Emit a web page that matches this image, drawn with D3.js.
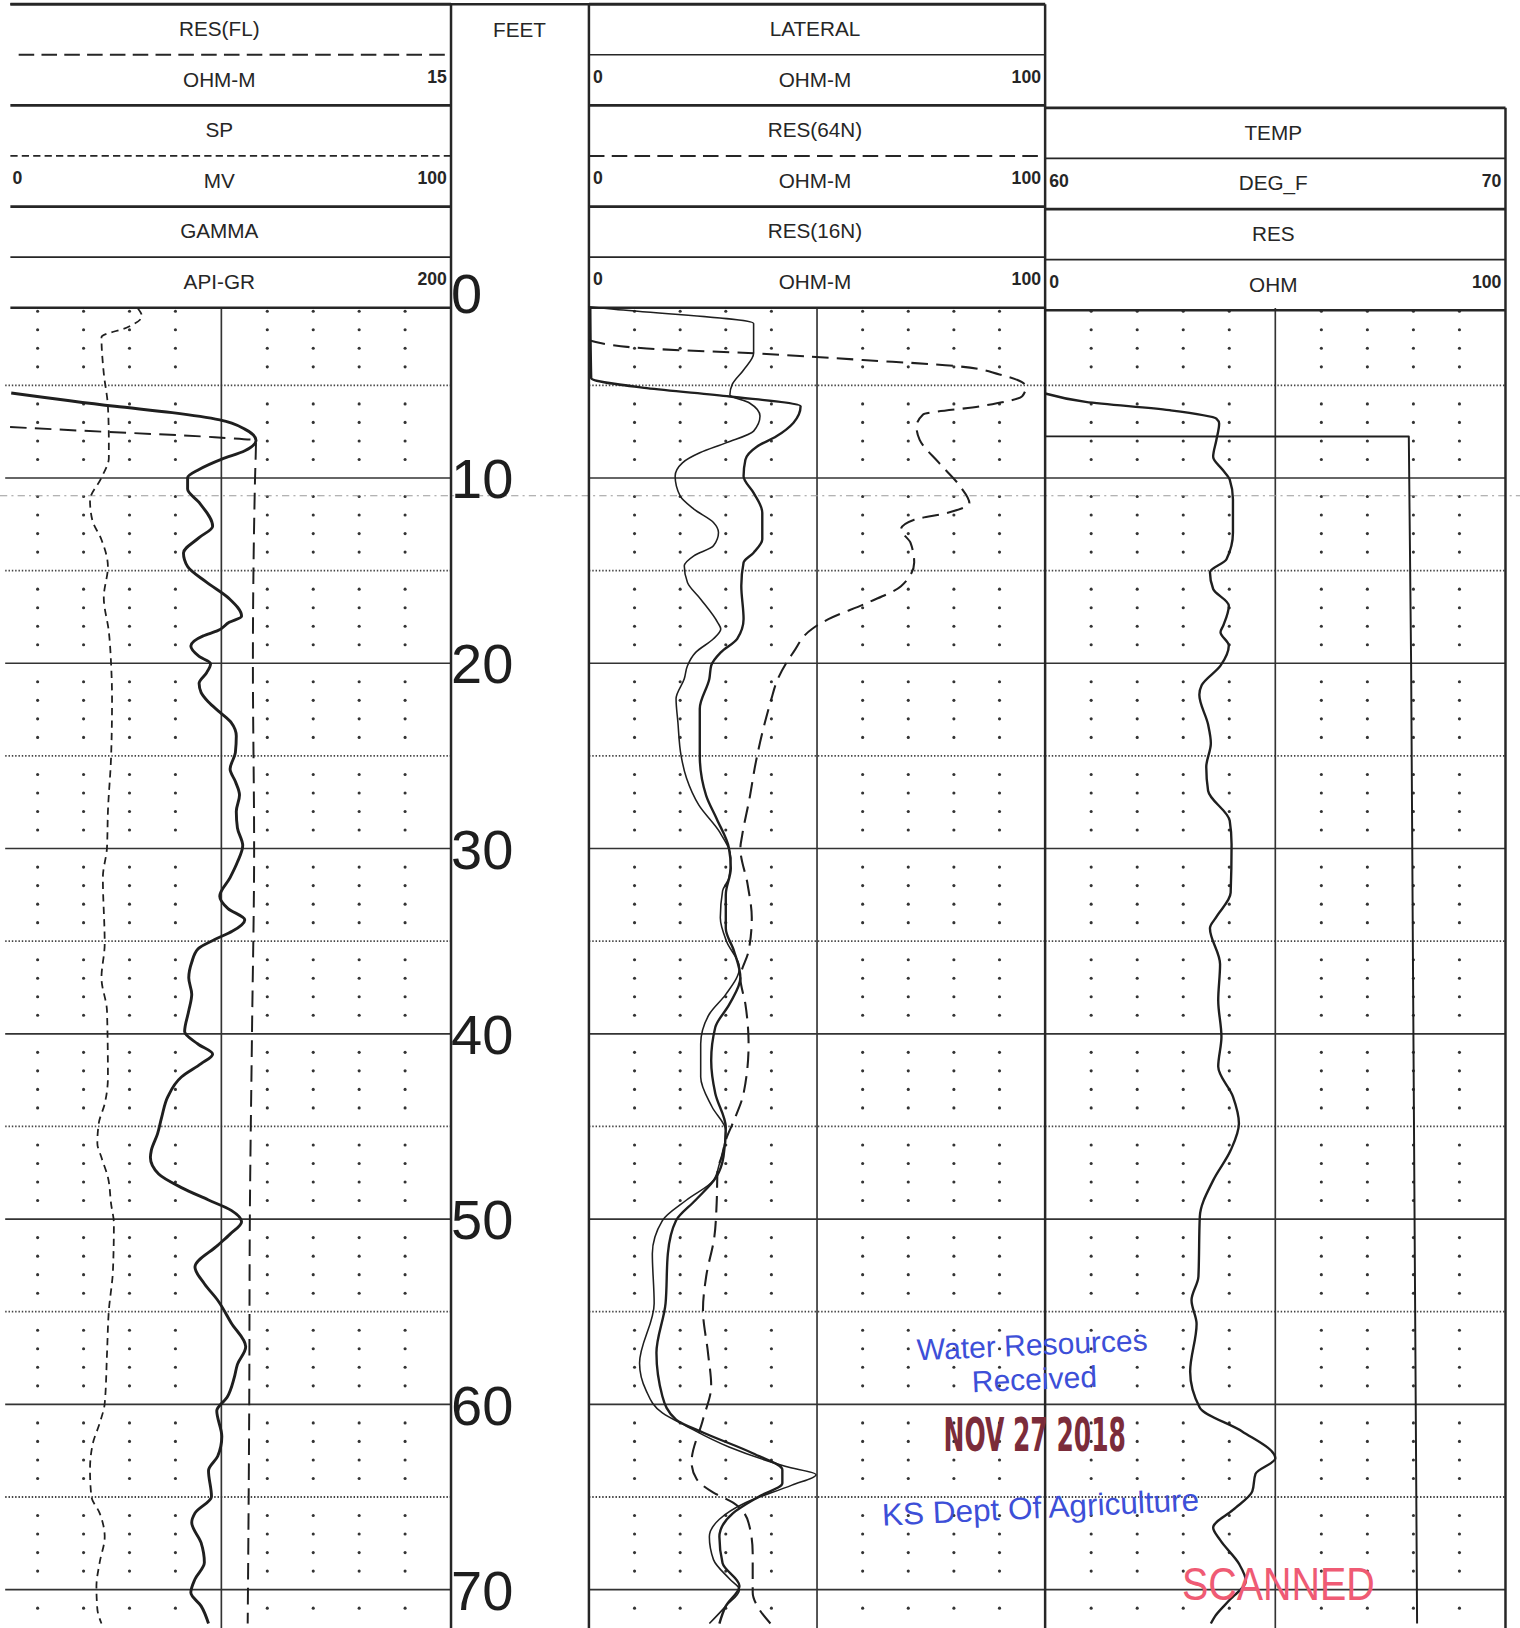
<!DOCTYPE html>
<html>
<head>
<meta charset="utf-8">
<script src="https://cdn.jsdelivr.net/npm/d3@7"></script>
<style>
  body { margin: 0; background: #fff; }
  svg { display: block; }
  text { font-family: "Liberation Sans", Arial, sans-serif; fill: #262626; }
</style>
</head>
<body>
<div id="chart"></div>
<script>
// ---- data: [depth (ft), value] ----
const depthTicks = [0, 10, 20, 30, 40, 50, 60, 70];

const gamma = [
  [5.41, 8.5], [6.13, 53.7], [6.47, 78.6], [6.86, 99.3], [7.36, 110.2], [7.98, 115.1],
  [8.53, 110.2], [8.98, 100.2], [9.54, 90.3], [9.98, 85.3], [10.6, 85.3], [11.32, 90.3],
  [12.6, 96.2], [13.22, 90.3], [14.05, 83.5], [14.78, 85.3], [15.62, 93.5], [16.51, 103.4],
  [17.46, 108.8], [17.79, 103.4], [18.24, 98.4], [18.52, 92.1], [19.07, 86.7], [19.63, 90.3],
  [20.02, 95.3], [20.52, 93.5], [21.08, 90.3], [21.58, 91.2], [22.09, 94.4], [22.64, 99.3],
  [23.2, 104.3], [23.93, 106.5], [24.82, 106.1], [25.71, 103.8], [26.38, 106.1], [27.11, 107.9],
  [28.0, 106.5], [28.89, 107.0], [29.84, 109.3], [30.73, 107.0], [31.57, 103.8], [32.57, 99.3],
  [33.24, 102.9], [33.85, 110.2], [34.47, 104.7], [34.91, 97.1], [35.42, 89.8], [36.14, 87.1],
  [36.98, 85.8], [37.87, 87.1], [38.76, 85.8], [39.88, 84.0], [40.55, 89.8], [41.1, 96.2],
  [41.61, 91.2], [42.33, 82.6], [43.39, 76.7], [44.51, 74.0], [45.4, 72.2], [46.29, 69.5],
  [46.68, 69.1], [47.57, 72.7], [48.3, 82.6], [48.97, 94.4], [49.53, 104.3], [50.14, 108.8],
  [50.81, 103.8], [51.42, 98.4], [52.59, 88.5], [53.49, 92.6], [54.38, 98.4], [55.61, 104.3],
  [56.89, 110.6], [57.84, 107.0], [58.56, 105.6], [59.62, 102.5], [60.35, 98.0], [61.74, 100.2],
  [62.8, 98.4], [63.58, 94.4], [64.97, 95.7], [65.87, 88.5], [66.37, 87.1], [67.48, 91.2],
  [68.54, 92.6], [69.44, 88.5], [70.16, 86.7], [70.89, 91.2], [71.83, 94.4]
];

const sp = [
  [0.84, 31.8], [1.28, 32.7], [1.84, 29.8], [2.4, 23.9], [4.35, 24.4], [6.13, 25.3],
  [8.03, 25.5], [8.92, 25.5], [9.98, 23.9], [11.21, 21.4], [12.27, 21.9], [13.33, 23.9],
  [14.78, 25.3], [16.45, 24.4], [18.29, 25.5], [20.08, 26.0], [21.92, 26.2], [24.99, 26.0],
  [28.0, 25.3], [29.95, 25.1], [31.57, 24.2], [35.14, 24.6], [36.98, 23.9], [38.76, 25.1],
  [42.33, 25.3], [43.78, 24.6], [44.84, 23.3], [45.9, 23.0], [46.68, 23.9], [47.74, 25.3],
  [49.19, 26.0], [50.25, 26.6], [52.76, 26.4], [54.94, 25.5], [57.28, 25.1], [59.96, 24.6],
  [61.02, 23.5], [62.13, 22.0], [63.53, 21.4], [64.97, 21.7], [65.87, 23.5], [67.15, 24.6],
  [68.54, 23.5], [69.83, 22.8], [71.05, 23.0], [71.83, 23.9]
];

const resFL = [
  [7.25, 0.6], [7.45, 3.0], [7.8, 7.28], [7.98, 8.63], [10, 8.6], [20, 8.53],
  [30, 8.57], [40, 8.5], [50, 8.43], [60, 8.41], [71.83, 8.36]
];

const lateral = [
  [0.76, 0], [0.89, 5.5], [1.66, 36.1], [3.27, 36.1], [4.17, 33.9], [4.96, 31.4],
  [5.5, 30.9], [5.95, 35.2], [6.66, 37.5], [7.47, 36.1], [8.09, 30.2], [8.64, 24.3],
  [9.18, 20.5], [9.9, 18.9], [10.97, 20.0], [11.68, 23.0], [12.4, 27.3], [12.94, 28.4],
  [13.66, 27.3], [14.2, 23.0], [14.74, 20.9], [15.64, 21.6], [16.54, 24.5], [17.79, 28.2],
  [18.15, 28.9], [18.68, 27.3], [19.41, 23.4], [20.13, 21.6], [20.84, 20.9], [21.92, 19.1],
  [23.17, 19.5], [24.99, 20.2], [26.21, 21.4], [27.66, 24.1], [29.09, 28.6], [30.51, 31.1],
  [31.57, 30.7], [32.29, 29.3], [33.74, 28.8], [35.03, 30.2], [36.42, 33.0], [37.87, 30.0],
  [38.93, 26.4], [40.55, 24.5], [42.33, 24.5], [43.95, 27.0], [45.23, 30.0], [46.63, 29.1],
  [47.02, 28.6], [47.91, 27.3], [48.97, 21.4], [50.08, 16.1], [51.87, 13.9], [54.55, 14.3],
  [57.78, 11.1], [59.23, 12.5], [60.46, 16.1], [61.18, 21.4], [62.3, 30.7], [63.36, 43.2],
  [63.8, 49.8], [64.36, 44.5], [65.31, 34.3], [66.2, 28.6], [67.15, 26.4], [68.38, 27.3],
  [69.44, 30.9], [70.0, 33.0], [70.89, 30.0], [71.83, 26.4]
];

const res16n = [
  [0.76, 0.3], [4.61, 0.5], [5.15, 12.7], [5.6, 30.9], [6.13, 46.4], [7.03, 44.8],
  [7.75, 41.1], [8.31, 36.8], [9.01, 34.3], [9.9, 33.9], [10.8, 36.1], [11.87, 38.0],
  [13.31, 38.0], [14.03, 36.1], [14.56, 33.9], [15.82, 33.4], [17.61, 33.9], [18.68, 32.5],
  [19.41, 28.9], [20.13, 26.8], [20.84, 26.4], [22.45, 24.3], [24.99, 24.3], [27.14, 25.7],
  [28.39, 28.0], [29.98, 30.7], [31.07, 31.1], [32.49, 30.0], [34.3, 30.0], [35.53, 31.8],
  [36.98, 33.2], [38.4, 30.8], [39.65, 27.7], [41.44, 26.8], [43.22, 27.7], [45.06, 30.0],
  [46.63, 29.5], [47.74, 27.9], [48.97, 23.4], [50.08, 19.1], [51.87, 17.3], [54.55, 16.8],
  [57.22, 14.8], [59.56, 16.1], [60.82, 19.1], [61.52, 25.0], [62.64, 35.9], [63.53, 42.4],
  [64.26, 42.4], [64.97, 37.3], [65.87, 31.6], [67.15, 28.6], [68.58, 29.3], [69.8, 33.0],
  [70.89, 30.0], [71.83, 28.6]
];

const res64n = [
  [2.57, 0], [3.01, 12.7], [3.27, 36.1], [3.63, 60.0], [3.96, 80.5], [4.41, 90.0],
  [5.08, 95.8], [5.58, 95.0], [6.13, 85.7], [6.58, 73.2], [7.23, 71.8], [7.94, 72.5],
  [9.2, 76.8], [10.46, 81.4], [11.36, 83.4], [11.89, 78.4], [12.25, 71.3], [12.77, 68.4],
  [13.5, 70.5], [14.56, 71.3], [15.84, 68.4], [16.73, 61.1], [17.62, 52.5], [18.15, 48.9],
  [19.41, 44.8], [21.03, 41.1], [21.92, 40.0], [23.17, 38.6], [25.32, 36.6], [27.3, 35.2],
  [29.28, 33.6], [29.98, 33.2], [31.96, 34.8], [33.74, 35.7], [35.53, 35.0], [36.98, 33.2],
  [38.4, 34.3], [40.55, 35.0], [43.22, 33.9], [44.67, 31.8], [45.73, 30.0], [46.63, 29.1],
  [47.35, 28.2], [49.14, 28.0], [50.95, 27.5], [53.1, 25.7], [54.88, 25.0], [57.22, 26.1],
  [59.01, 26.8], [60.82, 25.0], [63.13, 22.5], [64.03, 23.6], [64.75, 27.2], [65.31, 31.6],
  [66.4, 35.0], [68.02, 35.9], [70.16, 35.9], [71.05, 37.3], [71.83, 39.8]
];

const temp = [[0.8, 60], [7.75, 60], [7.76, 67.9], [20, 67.95], [40, 68.0], [71.83, 68.08]];

const res = [
  [5.44, 0], [5.89, 8.8], [6.34, 27.0], [6.79, 37.2], [7.06, 37.8], [7.95, 37.2],
  [8.85, 36.5], [9.57, 38.6], [10.09, 40.1], [11.15, 40.8], [12.96, 40.8], [14.39, 39.4],
  [15.09, 35.8], [15.99, 36.5], [16.89, 39.9], [17.96, 38.7], [18.32, 38.1], [19.04, 39.9],
  [20.13, 38.1], [21.19, 34.0], [21.7, 33.5], [23.31, 35.4], [24.32, 36.0], [25.6, 35.0],
  [26.88, 35.4], [28.5, 40.1], [29.78, 40.5], [32.38, 40.3], [33.69, 37.2], [34.3, 35.8],
  [36.25, 38.0], [38.2, 37.6], [40.16, 38.3], [41.77, 37.6], [43.39, 40.8], [44.84, 42.1],
  [46.29, 40.3], [47.91, 36.5], [49.86, 33.6], [53.1, 33.3], [54.38, 31.8], [55.66, 32.9],
  [58.23, 31.5], [60.18, 33.6], [61.46, 42.8], [62.91, 50.0], [63.75, 45.7], [64.7, 45.0],
  [65.7, 40.8], [66.65, 36.5], [67.32, 38.0], [68.6, 42.1], [69.55, 43.6], [70.55, 40.1],
  [71.44, 36.9], [71.83, 36.0]
];

// header labels: [title], [unit, left scale, right scale]
const leftHeader = [["RES(FL)"], ["OHM-M", "", "15"], ["SP"], ["MV", "0", "100"], ["GAMMA"], ["API-GR", "", "200"]];
const midHeader = [["LATERAL"], ["OHM-M", "0", "100"], ["RES(64N)"], ["OHM-M", "0", "100"], ["RES(16N)"], ["OHM-M", "0", "100"]];
const rightHeader = [["TEMP"], ["DEG_F", "60", "70"], ["RES"], ["OHM", "0", "100"]];

// ---- layout ----
const W = 1466, H = 1570;
const ink = "#262626";
const svg = d3.select("#chart").append("svg")
  .attr("width", 1520).attr("height", 1628)
  .attr("viewBox", `0 0 ${W} ${H}`)
  .attr("preserveAspectRatio", "none");

const y = d3.scaleLinear().domain([0, 70]).range([282.3, 1533]);
const trackL = [-8, 435], trackM = [568, 1008], trackR = [1008, 1452];
const headBottom = 297;

const xGamma = d3.scaleLinear().domain([0, 200]).range(trackL);
const xSP = d3.scaleLinear().domain([0, 100]).range(trackL);
const xFL = d3.scaleLinear().domain([0, 15]).range(trackL);
const xMid = d3.scaleLinear().domain([0, 100]).range(trackM);
const xRes = d3.scaleLinear().domain([0, 100]).range(trackR);
const xTemp = d3.scaleLinear().domain([60, 70]).range(trackR);

// ---- grid ----
const grid = svg.append("g");
function drawGrid(track, lineStart) {
  const [x0, x1] = track;
  const cols = d3.range(1, 10).map(i => x0 + (x1 - x0) * i / 10);
  for (let d = 1; d <= 71; d++) {
    const yy = y(d);
    if (d % 10 === 0) {
      grid.append("line").attr("x1", lineStart).attr("x2", x1).attr("y1", yy).attr("y2", yy)
        .attr("stroke", "#333").attr("stroke-width", 1.6);
    } else if (d % 5 === 0) {
      grid.append("line").attr("x1", lineStart).attr("x2", x1).attr("y1", yy).attr("y2", yy)
        .attr("stroke", "#444").attr("stroke-width", 1.7).attr("stroke-dasharray", "1.4,1.8");
    } else {
      cols.forEach((cx, i) => {
        if (i === 4) return;
        grid.append("circle").attr("cx", cx).attr("cy", yy).attr("r", 1.5).attr("fill", "#333");
      });
    }
  }
  // centre line
  grid.append("line").attr("x1", cols[4]).attr("x2", cols[4]).attr("y1", headBottom).attr("y2", H)
    .attr("stroke", "#333").attr("stroke-width", 1.6);
}
drawGrid(trackL, 5);
drawGrid(trackM, trackM[0]);
drawGrid(trackR, trackR[0]);

// scan streak
svg.append("line").attr("x1", 0).attr("x2", W).attr("y1", 478).attr("y2", 478)
  .attr("stroke", "#9a9a9a").attr("stroke-width", 1).attr("stroke-dasharray", "7,4,2,4");

// ---- borders ----
const border = svg.append("g").attr("stroke", ink).attr("stroke-width", 2.4);
border.append("line").attr("x1", 10).attr("x2", 1008).attr("y1", 4).attr("y2", 4);
[435, 568, 1008].forEach(x => border.append("line").attr("x1", x).attr("x2", x).attr("y1", 4).attr("y2", H));
border.append("line").attr("x1", 1452).attr("x2", 1452).attr("y1", 104).attr("y2", H);

// ---- headers ----
const lineStyles = {
  thick: { w: 2.6, dash: null },
  thin: { w: 1.6, dash: null },
  dashLong: { w: 1.8, dash: "15,7" },
  dashShort: { w: 1.7, dash: "7,4" }
};
function drawHeader(labels, styles, x0, x1, top, lineStart) {
  const g = svg.append("g");
  const rowH = 48.8;
  styles.forEach((s, k) => {
    const st = lineStyles[s];
    const yy = top + k * rowH;
    const l = g.append("line").attr("x1", s === "dashLong" && lineStart > x0 ? lineStart + 8 : lineStart)
      .attr("x2", x1).attr("y1", yy).attr("y2", yy)
      .attr("stroke", ink).attr("stroke-width", st.w);
    if (st.dash) l.attr("stroke-dasharray", st.dash);
  });
  labels.forEach((row, i) => {
    const yc = top + 23.5 + i * rowH;
    g.append("text").attr("x", (x0 + x1) / 2 - 2).attr("y", yc)
      .attr("text-anchor", "middle").attr("dominant-baseline", "central")
      .style("font-size", "20px").text(row[0]);
    if (row[1]) g.append("text").attr("x", Math.max(x0 + 4, 12)).attr("y", yc - 2)
      .attr("dominant-baseline", "central").style("font-size", "17px").style("font-weight", "bold").text(row[1]);
    if (row[2]) g.append("text").attr("x", x1 - 4).attr("y", yc - 2).attr("text-anchor", "end")
      .attr("dominant-baseline", "central").style("font-size", "17px").style("font-weight", "bold").text(row[2]);
  });
}
drawHeader(leftHeader, ["thick", "dashLong", "thick", "dashShort", "thick", "thin", "thick"], trackL[0], trackL[1], 4, 10);
drawHeader(midHeader, ["thick", "thin", "thick", "dashLong", "thick", "thin", "thick"], trackM[0], trackM[1], 4, trackM[0]);
drawHeader(rightHeader, ["thick", "thin", "thick", "thin", "thick"], trackR[0], trackR[1], 104, trackR[0]);

svg.append("text").attr("x", 501).attr("y", 28).attr("text-anchor", "middle")
  .attr("dominant-baseline", "central").style("font-size", "20px").text("FEET");

// depth labels
svg.append("g").selectAll("text").data(depthTicks).join("text")
  .attr("x", 435).attr("y", d => y(d) + 19.5)
  .style("font-size", "54px").style("fill", "#1e1e1e").text(d => d);

// ---- curves ----
function curve(data, xs, opts) {
  const line = d3.line()
    .x(d => xs(d[1])).y(d => y(d[0]))
    .curve(opts.linear ? d3.curveLinear : d3.curveMonotoneY);
  const p = svg.append("path").datum(data).attr("d", line)
    .attr("fill", "none").attr("stroke", opts.color || "#1f1f1f")
    .attr("stroke-width", opts.w).attr("stroke-linejoin", "round");
  if (opts.dash) p.attr("stroke-dasharray", opts.dash);
}
curve(sp, xSP, { w: 1.7, dash: "7,5" });
curve(resFL, xFL, { w: 1.9, dash: "16,8" });
curve(gamma, xGamma, { w: 2.8 });
curve(res64n, xMid, { w: 2.0, dash: "16,8" });
curve(lateral, xMid, { w: 1.5 });
curve(res16n, xMid, { w: 2.3 });
curve(temp, xTemp, { w: 1.9, linear: true });
curve(res, xRes, { w: 2.3 });

// ---- stamps ----
const stamp = svg.append("g");
const blue = "#3d4fd8";
stamp.append("text").attr("transform", "translate(996,1307) rotate(-2.5)").attr("text-anchor", "middle")
  .style("font-size", "29px").style("fill", blue).text("Water Resources");
stamp.append("text").attr("transform", "translate(998,1340) rotate(-2.5)").attr("text-anchor", "middle")
  .style("font-size", "29px").style("fill", blue).text("Received");
stamp.append("text").attr("x", 910).attr("y", 1399).attr("textLength", 176).attr("lengthAdjust", "spacingAndGlyphs")
  .style("font-size", "44px").style("font-weight", "bold").style("font-family", "'Liberation Sans Narrow', 'DejaVu Sans Condensed', sans-serif")
  .style("fill", "#7b2c3a").text("NOV 27 2018");
stamp.append("text").attr("transform", "translate(1004,1464) rotate(-2.8)").attr("text-anchor", "middle")
  .attr("textLength", 306).attr("lengthAdjust", "spacingAndGlyphs")
  .style("font-size", "30px").style("fill", blue).text("KS Dept Of Agriculture");
stamp.append("text").attr("x", 1140).attr("y", 1543).attr("textLength", 186).attr("lengthAdjust", "spacingAndGlyphs")
  .style("font-size", "44px").style("fill", "#ef5b74").text("SCANNED");
</script>
</body>
</html>
